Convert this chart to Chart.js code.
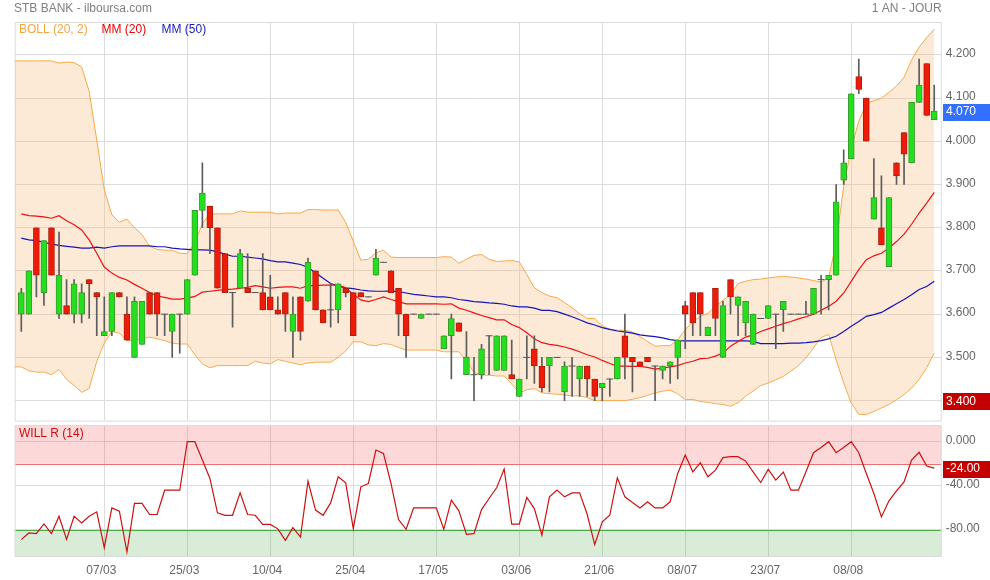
<!DOCTYPE html>
<html><head><meta charset="utf-8">
<script src="https://cdn.jsdelivr.net/npm/chart.js@4/dist/chart.umd.min.js"></script>
<style>
html,body{margin:0;padding:0;background:#fff;width:990px;height:580px;overflow:hidden}
#wrapTop{position:absolute;left:0;top:0;width:990px;height:425px}
#wrapBot{position:absolute;left:0;top:421px;width:990px;height:159px}
canvas{display:block}
</style></head><body>
<div id="wrapTop"><canvas id="top" width="990" height="425"></canvas></div>
<div id="wrapBot"><canvas id="bot" width="990" height="159"></canvas></div>
<script>
// ---------- DATA ----------
const opens = [3.60,3.60,3.80,3.65,3.80,3.60,3.62,3.60,3.60,3.68,3.65,3.55,3.56,3.65,3.60,3.50,3.53,3.65,3.65,3.60,
3.56,3.60,3.60,3.69,3.84,3.85,3.80,3.74,3.65,3.66,3.66,3.65,3.65,3.64,3.61,3.65,3.56,3.64,3.63,3.70,
3.61,3.61,3.61,3.66,3.65,3.65,3.64,3.69,3.72,3.70,3.66,3.60,3.60,3.59,3.60,3.60,3.52,3.55,3.58,3.46,
3.46,3.46,3.55,3.47,3.47,3.46,3.41,3.50,3.52,3.48,3.48,3.50,3.42,3.48,3.45,3.48,3.45,3.43,3.45,3.45,
3.55,3.50,3.49,3.50,3.48,3.47,3.48,3.50,3.62,3.65,3.65,3.55,3.66,3.50,3.68,3.62,3.58,3.53,3.59,3.59,
3.60,3.61,3.60,3.60,3.60,3.60,3.68,3.68,3.69,3.91,3.96,4.15,4.10,3.82,3.80,3.71,3.95,4.02,3.95,4.09,
4.18,4.05];
const highs = [3.66,3.70,3.80,3.77,3.80,3.79,3.68,3.68,3.67,3.68,3.65,3.64,3.65,3.65,3.64,3.64,3.63,3.65,3.65,3.60,
3.60,3.60,3.68,3.84,3.95,3.85,3.80,3.74,3.65,3.75,3.74,3.65,3.74,3.69,3.64,3.65,3.64,3.64,3.73,3.70,
3.61,3.67,3.67,3.66,3.65,3.65,3.64,3.75,3.72,3.70,3.66,3.60,3.60,3.60,3.60,3.60,3.55,3.60,3.58,3.56,
3.50,3.53,3.55,3.55,3.55,3.54,3.45,3.55,3.55,3.50,3.50,3.50,3.49,3.50,3.48,3.48,3.45,3.44,3.45,3.50,
3.60,3.50,3.49,3.50,3.48,3.48,3.49,3.54,3.63,3.65,3.65,3.57,3.66,3.63,3.68,3.64,3.63,3.60,3.59,3.62,
3.60,3.63,3.60,3.60,3.63,3.66,3.69,3.69,3.90,3.98,4.11,4.19,4.10,3.96,3.92,3.87,3.95,4.02,4.09,4.19,
4.18,4.13];
const lows = [3.56,3.60,3.64,3.62,3.69,3.59,3.60,3.58,3.58,3.59,3.55,3.55,3.55,3.64,3.54,3.50,3.53,3.60,3.55,3.55,
3.50,3.51,3.60,3.69,3.80,3.74,3.66,3.65,3.57,3.66,3.65,3.65,3.61,3.61,3.60,3.56,3.50,3.54,3.63,3.61,
3.58,3.57,3.58,3.64,3.55,3.64,3.64,3.69,3.72,3.65,3.55,3.50,3.60,3.59,3.60,3.60,3.52,3.45,3.56,3.46,
3.40,3.45,3.46,3.47,3.47,3.45,3.41,3.45,3.44,3.42,3.42,3.50,3.40,3.41,3.41,3.41,3.40,3.40,3.41,3.45,
3.45,3.42,3.48,3.49,3.40,3.45,3.44,3.45,3.52,3.55,3.55,3.55,3.55,3.50,3.60,3.55,3.55,3.53,3.59,3.59,
3.52,3.56,3.60,3.60,3.60,3.60,3.60,3.61,3.69,3.90,3.96,4.11,4.00,3.82,3.76,3.71,3.90,3.90,3.95,4.09,
4.06,4.05];
const closes = [3.65,3.70,3.69,3.77,3.69,3.69,3.60,3.67,3.65,3.67,3.64,3.56,3.65,3.64,3.54,3.63,3.63,3.60,3.60,3.60,
3.60,3.60,3.68,3.84,3.88,3.80,3.66,3.65,3.65,3.74,3.65,3.65,3.61,3.61,3.60,3.60,3.60,3.56,3.72,3.61,
3.58,3.61,3.67,3.65,3.55,3.64,3.64,3.73,3.72,3.65,3.60,3.55,3.60,3.60,3.60,3.60,3.55,3.59,3.56,3.50,
3.46,3.52,3.55,3.55,3.55,3.45,3.45,3.50,3.48,3.43,3.50,3.50,3.48,3.48,3.48,3.45,3.41,3.44,3.45,3.50,
3.50,3.49,3.48,3.49,3.48,3.48,3.49,3.54,3.60,3.58,3.60,3.57,3.59,3.62,3.64,3.64,3.63,3.60,3.59,3.62,
3.60,3.63,3.60,3.60,3.60,3.66,3.68,3.69,3.86,3.95,4.11,4.12,4.00,3.87,3.76,3.87,3.92,3.97,4.09,4.13,
4.06,4.07];
// Bollinger bands start one session before the first candle (clipped at the left edge)
const bollStart = -1;
const bollUpper = [4.186,4.186,4.186,4.186,4.186,4.186,4.181,4.183,4.182,4.172,4.115,4.003,3.888,3.830,3.813,3.820,3.800,3.784,3.757,3.750,
3.748,3.748,3.741,3.740,3.765,3.810,3.832,3.832,3.832,3.832,3.839,3.836,3.836,3.836,3.836,3.832,3.834,3.834,3.834,3.842,
3.842,3.841,3.841,3.841,3.812,3.769,3.725,3.727,3.742,3.748,3.732,3.731,3.731,3.731,3.731,3.731,3.731,3.733,3.732,3.718,
3.727,3.736,3.738,3.727,3.722,3.723,3.724,3.721,3.692,3.661,3.650,3.642,3.638,3.627,3.615,3.601,3.590,3.590,3.573,3.565,
3.563,3.563,3.559,3.548,3.537,3.526,3.527,3.527,3.541,3.564,3.583,3.595,3.602,3.618,3.632,3.645,3.671,3.676,3.680,3.681,
3.684,3.686,3.687,3.686,3.684,3.681,3.678,3.674,3.684,3.765,3.896,3.984,4.046,4.087,4.094,4.100,4.113,4.128,4.148,4.188,
4.218,4.240,4.259];
const bollLower = [3.478,3.478,3.469,3.466,3.466,3.460,3.472,3.449,3.435,3.419,3.428,3.491,3.533,3.560,3.556,3.539,3.539,3.543,3.547,3.543,
3.539,3.533,3.531,3.531,3.506,3.485,3.476,3.481,3.481,3.481,3.481,3.481,3.491,3.487,3.485,3.495,3.491,3.487,3.483,3.487,
3.489,3.489,3.489,3.500,3.515,3.536,3.536,3.529,3.527,3.532,3.530,3.523,3.517,3.517,3.517,3.517,3.517,3.513,3.513,3.513,
3.492,3.465,3.459,3.459,3.457,3.457,3.438,3.418,3.425,3.428,3.418,3.416,3.415,3.413,3.411,3.411,3.407,3.400,3.400,3.400,
3.400,3.400,3.403,3.407,3.412,3.418,3.422,3.424,3.416,3.402,3.403,3.398,3.396,3.393,3.391,3.387,3.395,3.410,3.422,3.435,
3.441,3.448,3.456,3.468,3.481,3.499,3.522,3.546,3.553,3.495,3.441,3.395,3.368,3.368,3.375,3.383,3.391,3.402,3.414,3.429,
3.449,3.476,3.510];
const mm20 = [3.832,3.828,3.827,3.825,3.822,3.828,3.816,3.807,3.795,3.772,3.741,3.709,3.695,3.685,3.679,3.669,3.660,3.650,3.642,3.639,
3.635,3.635,3.637,3.641,3.651,3.653,3.655,3.657,3.658,3.660,3.662,3.666,3.663,3.660,3.662,3.663,3.663,3.660,3.666,3.666,
3.667,3.667,3.667,3.661,3.646,3.633,3.629,3.634,3.640,3.634,3.629,3.624,3.624,3.624,3.624,3.624,3.623,3.624,3.614,3.609,
3.603,3.597,3.592,3.587,3.587,3.576,3.569,3.557,3.543,3.534,3.530,3.528,3.524,3.519,3.513,3.506,3.501,3.493,3.486,3.480,
3.480,3.479,3.479,3.477,3.473,3.475,3.478,3.481,3.487,3.491,3.497,3.498,3.503,3.510,3.526,3.537,3.547,3.552,3.560,3.566,
3.572,3.578,3.583,3.589,3.594,3.600,3.609,3.618,3.630,3.649,3.676,3.703,3.726,3.735,3.741,3.753,3.768,3.785,3.808,3.834,
3.857,3.882];
const mm50 = [3.776,3.772,3.770,3.766,3.762,3.759,3.757,3.755,3.753,3.753,3.755,3.753,3.756,3.758,3.758,3.758,3.758,3.758,3.756,3.756,
3.753,3.751,3.750,3.749,3.749,3.748,3.744,3.739,3.734,3.734,3.732,3.730,3.728,3.724,3.721,3.721,3.718,3.715,3.708,3.696,
3.683,3.671,3.665,3.661,3.659,3.656,3.654,3.653,3.653,3.654,3.652,3.649,3.646,3.644,3.642,3.640,3.640,3.638,3.634,3.632,
3.629,3.628,3.626,3.625,3.623,3.619,3.617,3.617,3.614,3.609,3.609,3.606,3.600,3.594,3.587,3.580,3.575,3.569,3.565,3.561,
3.559,3.556,3.552,3.550,3.548,3.545,3.541,3.539,3.538,3.538,3.538,3.538,3.538,3.538,3.538,3.538,3.538,3.537,3.532,3.532,
3.532,3.532,3.533,3.533,3.534,3.536,3.539,3.543,3.549,3.560,3.572,3.583,3.595,3.599,3.604,3.614,3.624,3.634,3.645,3.657,
3.664,3.676];
const willR = [-88.8,-82.7,-83.3,-74.5,-83.3,-67.6,-88.5,-67.6,-73.6,-67.6,-63.6,-96,-60,-63,-100,-56,-56,-66,-66,-44,
-44,-44,0,0,-16.7,-33.3,-64.5,-66.7,-66.7,-46.4,-66,-66.7,-75,-75,-79,-89.4,-77.9,-86.4,-35.8,-62,
-66.7,-55.5,-31.8,-37.3,-78.8,-40.9,-37.9,-7.6,-10.6,-37.9,-70.6,-79.4,-60,-60,-60,-60,-79.4,-53,-62.7,-84,
-83.3,-61.5,-51.5,-41.8,-24.8,-74.8,-74.8,-50.6,-60.6,-84.8,-50,-43.9,-50,-46.4,-46.4,-65.8,-93.3,-72.7,-66.7,-32.7,
-50,-55.2,-60,-54.5,-60,-60,-54.5,-28.8,-12.1,-27.3,-19.1,-31.8,-25.8,-14.5,-13.6,-13.6,-17.6,-27.3,-37,-25.2,
-34.8,-27.6,-43.9,-43.9,-27.3,-10,-5.2,0,-10,-5.2,0,-10,-28.8,-47,-68.2,-53.6,-44.5,-36.4,-16.7,-9.7,
-22.1,-24];
const priceTicks = [3.4,3.5,3.6,3.7,3.8,3.9,4.0,4.1,4.2];
const willTicks = [0,-40,-80];
const willTickLabels = ['0.000','-40.00','-80.00'];
const overbought = -20, oversold = -80;
const dateTickIdx = [11,22,33,44,55,66,77,88,99,110];
const dateLabels = ['07/03','25/03','10/04','25/04','17/05','03/06','21/06','08/07','23/07','08/08'];

// ---------- STYLE ----------
const FONT = '"Liberation Sans", Arial, Helvetica, sans-serif';
const GRID = '#dcdcdc';
const X_MIN = -0.875, X_MAX = 121.99;
const PLOT_LEFT = 14.7, AXIS_W = 48.3;

const pts = (arr, start = 0) => arr.map((v, i) => ({x: i + start, y: v}));
const idx = opens.map((_, i) => i);
const bodyIdx = idx.filter(i => opens[i] !== closes[i]);
const dojiIdx = idx.filter(i => opens[i] === closes[i]);
const up = i => closes[i] > opens[i];

function noPad(s) { s.paddingTop = 0; s.paddingBottom = 0; s.paddingLeft = 0; s.paddingRight = 0; }

function drawTag(ctx, y, text, color) {
  ctx.fillStyle = color;
  ctx.fillRect(943, Math.round(y - 7.5), 47, 17);
  ctx.fillStyle = '#fff';
  ctx.font = '12px ' + FONT;
  ctx.textAlign = 'left'; ctx.textBaseline = 'middle';
  ctx.fillText(text, 946, y + 1);
}

const topDecor = {
  id: 'topDecor',
  beforeDatasetsDraw(chart) {
    const {ctx, chartArea: a, scales} = chart;
    ctx.save();
    ctx.strokeStyle = GRID; ctx.lineWidth = 1;
    // vertical grid lines at the date ticks of the (hidden) x scale
    dateTickIdx.forEach(v => {
      const px = Math.round(scales.x.getPixelForValue(v)) + 0.5;
      ctx.beginPath(); ctx.moveTo(px, a.top); ctx.lineTo(px, a.bottom); ctx.stroke();
    });
    ctx.strokeRect(a.left + 0.5, a.top + 0.5, a.right - a.left - 1, a.bottom - a.top);
    ctx.restore();
  },
  afterDraw(chart) {
    const {ctx, chartArea: a, scales} = chart;
    ctx.save();
    ctx.font = '12px ' + FONT;
    ctx.textBaseline = 'middle';
    ctx.fillStyle = '#808080';
    ctx.textAlign = 'left';
    ctx.fillText('STB BANK - ilboursa.com', 14, 9);
    ctx.textAlign = 'right';
    ctx.fillText('1 AN - JOUR', a.right, 9);
    ctx.textAlign = 'left';
    ctx.fillStyle = '#f5a540'; ctx.fillText('BOLL (20, 2)', 19, 30);
    ctx.fillStyle = '#ee0000'; ctx.fillText('MM (20)', 101.5, 30);
    ctx.fillStyle = '#1a1ab4'; ctx.fillText('MM (50)', 161.5, 30);
    const y = scales.y;
    const last = closes[closes.length - 1];
    drawTag(ctx, y.getPixelForValue(last), last.toFixed(3), '#3370ff');
    const lowest = Math.min(...lows);
    drawTag(ctx, y.getPixelForValue(lowest), lowest.toFixed(3), '#c40000');
    ctx.restore();
  }
};

new Chart(document.getElementById('top'), {
  type: 'line',
  data: {
    datasets: [
      {type: 'line', label: 'doji', data: dojiIdx.map(i => ({x: i, y: closes[i]})), showLine: false,
       pointStyle: 'line', pointRadius: 3.5, pointHoverRadius: 3.5, borderColor: '#555', pointBorderWidth: 1, order: 0},
      {type: 'bar', label: 'body', data: bodyIdx.map(i => ({x: i, y: [opens[i], closes[i]]})),
       backgroundColor: bodyIdx.map(i => up(i) ? '#22e01e' : '#f01a08'),
       borderColor: bodyIdx.map(i => up(i) ? '#3a982c' : '#a82010'),
       borderWidth: 1, borderSkipped: false, barThickness: 6, grouped: false, order: 1},
      {type: 'bar', label: 'wick', data: idx.map(i => ({x: i, y: [lows[i], highs[i]]})),
       backgroundColor: '#5c5c5c', borderWidth: 0, barThickness: 1, grouped: false, order: 2},
      {type: 'line', label: 'MM (20)', data: pts(mm20), borderColor: '#ee1111', borderWidth: 1.2,
       pointRadius: 0, tension: 0, fill: false, order: 3},
      {type: 'line', label: 'MM (50)', data: pts(mm50), borderColor: '#1515b8', borderWidth: 1.2,
       pointRadius: 0, tension: 0, fill: false, order: 4},
      {type: 'line', label: 'BOLL up', data: pts(bollUpper, bollStart), borderColor: '#f7a844', borderWidth: 1,
       pointRadius: 0, tension: 0, fill: '+1', backgroundColor: 'rgba(245,190,130,0.32)', order: 5},
      {type: 'line', label: 'BOLL low', data: pts(bollLower, bollStart), borderColor: '#f7a844', borderWidth: 1,
       pointRadius: 0, tension: 0, fill: false, order: 6}
    ]
  },
  options: {
    responsive: false, animation: false, events: [],
    layout: {padding: {left: PLOT_LEFT, top: 22, right: 0, bottom: 1}},
    plugins: {legend: {display: false}, tooltip: {enabled: false}},
    scales: {
      x: {type: 'linear', display: false, min: X_MIN, max: X_MAX, offset: false},
      y: {
        type: 'linear', position: 'right', min: 3.354, max: 4.276, beginAtZero: false,
        afterBuildTicks: s => { s.ticks = priceTicks.map(v => ({value: v})); },
        grid: {color: GRID, drawTicks: false},
        border: {display: false},
        ticks: {padding: 4, labelOffset: -1, color: '#666', font: {family: FONT, size: 12},
                callback: v => Number(v).toFixed(3)},
        afterFit: s => { s.width = AXIS_W; noPad(s); }
      }
    }
  },
  plugins: [topDecor]
});

const botDecor = {
  id: 'botDecor',
  beforeDatasetsDraw(chart) {
    const {ctx, chartArea: a, scales} = chart;
    const y = scales.y;
    const yOb = y.getPixelForValue(overbought), yOs = y.getPixelForValue(oversold);
    ctx.save();
    ctx.fillStyle = 'rgba(240,60,60,0.2)';
    ctx.fillRect(a.left, a.top, a.right - a.left, yOb - a.top);
    ctx.fillStyle = 'rgba(60,160,60,0.2)';
    ctx.fillRect(a.left, yOs, a.right - a.left, a.bottom - yOs);
    ctx.lineWidth = 1;
    ctx.strokeStyle = '#ee7070';
    ctx.beginPath(); ctx.moveTo(a.left, Math.round(yOb) + 0.5); ctx.lineTo(a.right, Math.round(yOb) + 0.5); ctx.stroke();
    ctx.strokeStyle = '#4ea84e';
    ctx.beginPath(); ctx.moveTo(a.left, Math.round(yOs) + 0.5); ctx.lineTo(a.right, Math.round(yOs) + 0.5); ctx.stroke();
    ctx.strokeStyle = GRID;
    ctx.strokeRect(a.left + 0.5, a.top + 0.5, a.right - a.left - 1, a.bottom - a.top);
    ctx.restore();
  },
  afterDraw(chart) {
    const {ctx, scales} = chart;
    ctx.save();
    ctx.font = '12px ' + FONT;
    ctx.textBaseline = 'middle'; ctx.textAlign = 'left';
    ctx.fillStyle = '#cc1010';
    ctx.fillText('WILL R (14)', 19, 13);
    const last = willR[willR.length - 1];
    drawTag(ctx, scales.y.getPixelForValue(last), last.toFixed(2), '#c40000');
    ctx.restore();
  }
};

new Chart(document.getElementById('bot'), {
  type: 'line',
  data: {
    datasets: [
      {label: 'WILL R (14)', data: pts(willR), borderColor: '#cc1111', borderWidth: 1.2,
       pointRadius: 0, tension: 0, fill: false}
    ]
  },
  options: {
    responsive: false, animation: false, events: [],
    layout: {padding: {left: PLOT_LEFT, top: 4, right: 0, bottom: 0}},
    plugins: {legend: {display: false}, tooltip: {enabled: false}},
    scales: {
      x: {
        type: 'linear', min: X_MIN, max: X_MAX, offset: false,
        afterBuildTicks: s => { s.ticks = dateTickIdx.map(v => ({value: v})); },
        grid: {color: GRID, drawTicks: false, offset: false},
        border: {display: false},
        ticks: {
          autoSkip: false, maxRotation: 0, padding: 7, labelOffset: -3,
          color: '#666', font: {family: FONT, size: 12},
          callback: v => dateLabels[dateTickIdx.indexOf(v)] ?? ''
        },
        afterFit: s => { s.height = 24; noPad(s); }
      },
      y: {
        type: 'linear', position: 'right', min: -103.6, max: 15.1,
        afterBuildTicks: s => { s.ticks = willTicks.map(v => ({value: v})); },
        grid: {color: GRID, drawTicks: false},
        border: {display: false},
        ticks: {padding: 4, labelOffset: -1, color: '#666', font: {family: FONT, size: 12},
                callback: v => willTickLabels[willTicks.indexOf(v)] ?? ''},
        afterFit: s => { s.width = AXIS_W; noPad(s); }
      }
    }
  },
  plugins: [botDecor]
});
</script>
</body></html>
